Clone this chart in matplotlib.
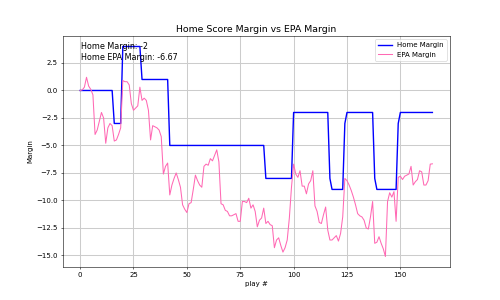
import numpy as np
import matplotlib
matplotlib.use('Agg')
import matplotlib.pyplot as plt

# home score margin, stored as (value, number of plays) runs
margin_vals = [0, -3, 4, 1, -5, -8, -2, -8, -9, -3, -2, -8, -9, -3, -2]
margin_runs = [16, 4, 9, 13, 45, 13, 17, 1, 6, 1, 13, 1, 10, 1, 16]

epa_margin = [
    0.0, 0.05, 0.3, 1.2, 0.4, 0.1, -0.4, -4.0, -3.6, -2.8,
    -2.0, -2.5, -4.8, -3.4, -3.0, -3.2, -4.6, -4.5, -4.0, -3.4,
    0.9, 0.8, 0.8, 0.5, -1.2, -1.8, -1.6, -1.4, 0.3, -0.9,
    -0.7, -0.9, -1.8, -4.5, -3.2, -3.3, -3.4, -3.6, -4.2, -7.6,
    -6.9, -6.6, -9.5, -8.6, -8.0, -7.5, -8.1, -8.8, -10.4, -10.8,
    -11.1, -10.3, -10.2, -9.0, -7.7, -8.2, -8.6, -8.8, -6.9, -6.7,
    -6.8, -6.2, -6.4, -5.9, -5.4, -6.5, -10.3, -10.4, -10.9, -11.0,
    -11.4, -11.4, -11.3, -11.2, -11.9, -11.9, -10.1, -10.1, -10.2, -9.8,
    -10.7, -10.4, -11.0, -12.4, -11.8, -11.6, -10.7, -12.1, -11.9, -12.2,
    -12.3, -14.3, -13.6, -13.4, -14.1, -14.7, -14.3, -13.6, -11.6, -8.8,
    -6.7, -7.6, -7.9, -7.3, -8.7, -8.7, -9.4, -8.5, -8.2, -7.3,
    -10.5, -11.0, -12.0, -12.1, -11.3, -10.6, -12.7, -13.6, -13.6, -13.4,
    -13.2, -13.7, -13.0, -11.5, -8.0, -8.2, -8.6, -9.1, -9.7, -10.4,
    -11.2, -11.4, -11.5, -11.8, -12.5, -12.6, -11.5, -10.1, -13.9, -13.8,
    -13.3, -13.9, -14.4, -15.1, -10.1, -9.3, -9.7, -9.2, -11.9, -7.9,
    -7.8, -8.1, -7.8, -7.7, -7.6, -6.9, -8.6, -8.3, -8.1, -7.3,
    -7.4, -8.6, -8.6, -8.2, -6.7, -6.67,
]

home_margin = np.repeat(margin_vals, margin_runs)
plays = np.arange(len(home_margin))

fig, ax = plt.subplots(figsize=(10, 6), dpi=50)
ax.plot(plays, home_margin, color='blue', linewidth=2, label='Home Margin')
ax.plot(plays, epa_margin, color='hotpink', linewidth=1.5, label='EPA Margin')
ax.text(0.3, 2.6, f"Home Margin: {home_margin[-1]}\nHome EPA Margin: {epa_margin[-1]}",
        va='bottom', ha='left', fontsize=11.5)
ax.set_title('Home Score Margin vs EPA Margin', fontsize=13.5)
ax.set_xlabel('play #')
ax.set_ylabel('Margin')
ax.grid(True, linewidth=1.5, color='#cccccc')
ax.legend(loc='upper right')
fig.savefig('out.png')
